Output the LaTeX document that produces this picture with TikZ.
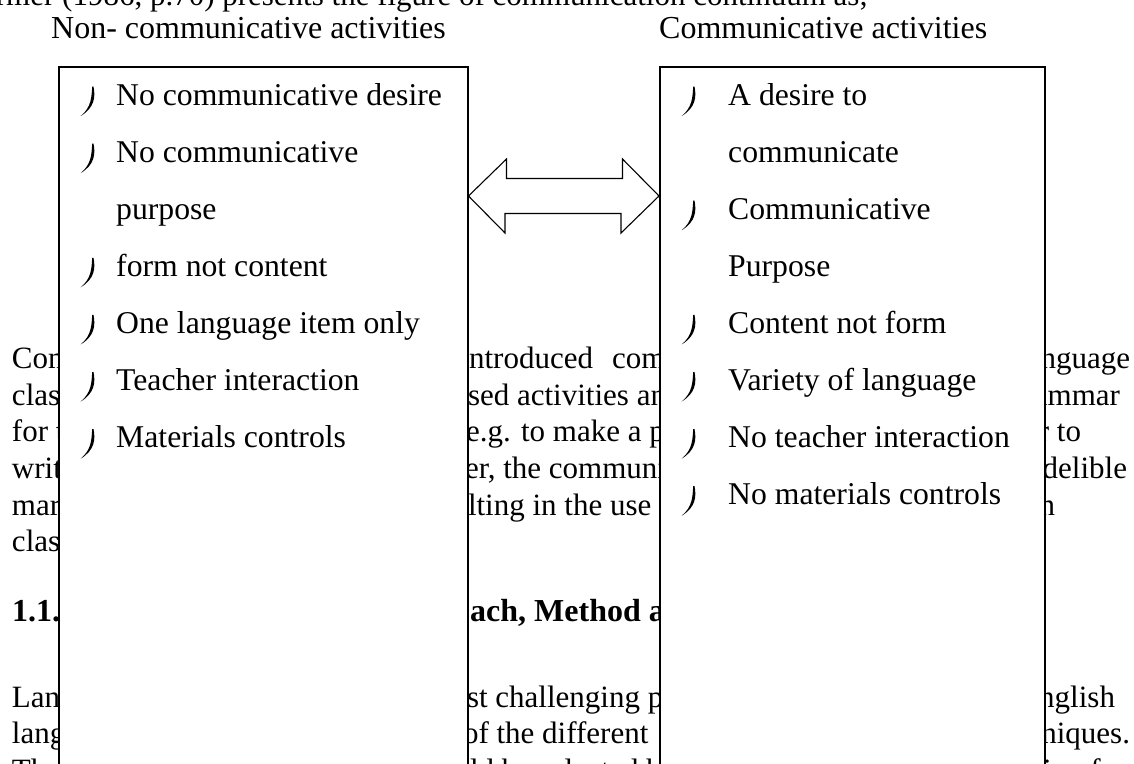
\documentclass[tikz,border=0pt]{standalone}
\usepackage{fontspec}
\setmainfont{Liberation Serif}
\usetikzlibrary{calc}
\begin{document}
\begin{tikzpicture}[x=1pt,y=-1pt,
  bodytext/.style={font=\fontsize{31}{37}\selectfont, inner sep=0pt, outer sep=0pt},
  bodyL/.style={bodytext, anchor=base west},
  bodyR/.style={bodytext, anchor=base east},
  headtext/.style={font=\fontsize{32}{38}\selectfont\bfseries, inner sep=0pt, anchor=base west},
  title/.style={font=\fontsize{32}{38}\selectfont, inner sep=0pt, anchor=base west},
  item/.style={font=\fontsize{31.7}{38}\selectfont, inner sep=0pt, anchor=base west},
  box/.style={draw, fill=white, line width=1.5pt, inner sep=0pt, anchor=north west},
  twoarrow/.style={draw, fill=white, line width=1.1pt, line join=miter},
  hook/.pic={\fill (0,0) .. controls (2,10) and (1.4,21) .. (-12.8,29.5) .. controls (-1.8,20.5) and (-2,10) .. (-1.3,0) -- cycle;}
]
\useasboundingbox (0,0) rectangle (1134,763);
\clip (0,0) rectangle (1134,763);

% ---- background page text (partly hidden by the boxes) ----
\node[bodyR] (top) at (868,5) {Harmer (1986, p.70) presents the figure of communication continuum as;};

\node[bodyL] (a1) at (12,368) {Comm};
\node[bodyL] (b1) at (460.5,368) {introduced\hspace{19pt}com};
\node[bodyR] (c1) at (1130,368) {language};

\node[bodyL] (a2) at (12,405) {class};
\node[bodyL] (b2) at (468,405) {sed activities and};
\node[bodyR] (c2) at (1120,405) {grammar};

\node[bodyL] (a3) at (12,441.7) {for the};
\node[bodyL] (b3) at (466,441.7) {e.g. to make a poster};
\node[bodyR] (c3) at (1081,441.7) {er to};

\node[bodyL] (a4) at (12,478.4) {writing};
\node[bodyL] (b4) at (465,478.4) {er, the communicative};
\node[bodyR] (c4) at (1127,478.4) {indelible};

\node[bodyL] (a5) at (12,515) {marked};
\node[bodyL] (b5) at (468,515) {lting in the use};
\node[bodyR] (c5) at (1055,515) {in};

\node[bodyL] (a6) at (12,551.7) {class};

\node[headtext] (h1) at (12,621.7) {1.1.};
\node[headtext] (h2) at (454,621.7) {oach, Method and Technique};

\node[bodyL] (d1) at (12,707) {Language};
\node[bodyL] (e1) at (467,707) {st challenging problems};
\node[bodyR] (f1) at (1115,707) {English};

\node[bodyL] (d2) at (12,743.5) {language};
\node[bodyL] (e2) at (463,743.5) {of the different};
\node[bodyR] (f2) at (1130,743.5) {techniques.};

\node[bodyL] (d3) at (12,780) {The};
\node[bodyL] (e3) at (470,780) {ld be selected by the};
\node[bodyL] (f3) at (1043,780) {ing for};

% ---- titles ----
\node[title] (tL) at (51,38) {Non- communicative activities};
\node[title] (tR) at (659,38) {Communicative activities};

% ---- boxes ----
\node[box, minimum width=409pt, minimum height=800pt] (L) at (58,66) {};
\node[box, minimum width=385pt, minimum height=800pt] (R) at (659,66) {};

% ---- double arrow between the boxes ----
\coordinate (la) at ($(L.north east)+(0,130)$);
\coordinate (ra) at ($(R.north west)+(0,130)$);
\draw[twoarrow] (la) -- ++(38,-37) -- ++(0,19.5) -- ++(116,0) -- ++(0,-19.5) -- (ra)
  -- ++(-38,37) -- ++(0,-19.5) -- ++(-116,0) -- ++(0,19.5) -- cycle;

% ---- left box items ----
\node[item] (l1) at (116,105) {No communicative desire};
\node[item] (l2) at (116,162.1) {No communicative};
\node[item] (l3) at (116,219.2) {purpose};
\node[item] (l4) at (116,276.3) {form not content};
\node[item] (l5) at (116,333.4) {One language item only};
\node[item] (l6) at (116,390.5) {Teacher interaction};
\node[item] (l7) at (116,447.6) {Materials controls};
\foreach \yy in {105,162.1,276.3,333.4,390.5,447.6}
  \pic at (93.5,\yy-18.5) {hook};

% ---- right box items ----
\node[item] (r1) at (728,105) {A desire to};
\node[item] (r2) at (728,162.1) {communicate};
\node[item] (r3) at (728,219.2) {Communicative};
\node[item] (r4) at (728,276.3) {Purpose};
\node[item] (r5) at (728,333.4) {Content not form};
\node[item] (r6) at (728,390.5) {Variety of language};
\node[item] (r7) at (728,447.6) {No teacher interaction};
\node[item] (r8) at (728,504.7) {No materials controls};
\foreach \yy in {105,219.2,333.4,390.5,447.6,504.7}
  \pic at (694.5,\yy-18.5) {hook};
\end{tikzpicture}
\end{document}
